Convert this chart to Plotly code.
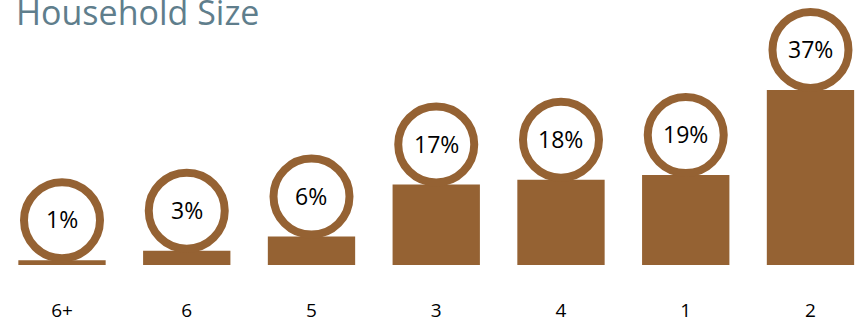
import plotly.graph_objects as go

categories = ["6+", "6", "5", "3", "4", "1", "2"]
values = [1, 3, 6, 17, 18, 19, 37]
labels = ["1%", "3%", "6%", "17%", "18%", "19%", "37%"]

BROWN = "#956233"
TITLE_COLOR = "#5F7E8C"
FONT = "Open Sans"

fig = go.Figure()
fig.add_trace(go.Bar(
    x=list(range(len(categories))), y=values, width=0.7,
    marker=dict(color=BROWN, line=dict(width=0)),
    hoverinfo="skip", showlegend=False,
))

shapes = []
annotations = []
for i, (v, lab) in enumerate(zip(values, labels)):
    shapes.append(dict(
        type="circle", xref="x", yref="y",
        xsizemode="pixel", ysizemode="pixel",
        xanchor=i, yanchor=v,
        x0=-38, x1=38, y0=2, y1=78,
        fillcolor="white", line=dict(color=BROWN, width=8),
        layer="above",
    ))
    annotations.append(dict(
        x=i, y=v, xref="x", yref="y", text=lab, showarrow=False,
        yshift=41, yanchor="middle", xanchor="center",
        font=dict(family=FONT, size=23, color="black"),
    ))

annotations.append(dict(
    x=0.016, y=1.0, xref="paper", yref="paper", text="Household Size",
    showarrow=False, xanchor="left", yanchor="bottom", yshift=-37,
    font=dict(family=FONT, size=34, color=TITLE_COLOR),
))

fig.update_layout(
    width=864, height=323,
    margin=dict(l=0, r=0, t=0, b=58),
    paper_bgcolor="white", plot_bgcolor="white",
    shapes=shapes, annotations=annotations,
    bargap=0.3,
    xaxis=dict(
        range=[-0.497, 6.429], tickmode="array",
        tickvals=list(range(len(categories))), ticktext=categories,
        showgrid=False, zeroline=False, showline=False, ticks="",
        ticklabelstandoff=32,
        tickfont=dict(family=FONT, size=19, color="black"),
    ),
    yaxis=dict(range=[0, 56.0], visible=False, showgrid=False, zeroline=False),
)

fig.write_html(
    "out.html",
    config={"displayModeBar": False},
    post_script="document.body.style.margin='0';document.body.style.overflow='hidden';",
)
